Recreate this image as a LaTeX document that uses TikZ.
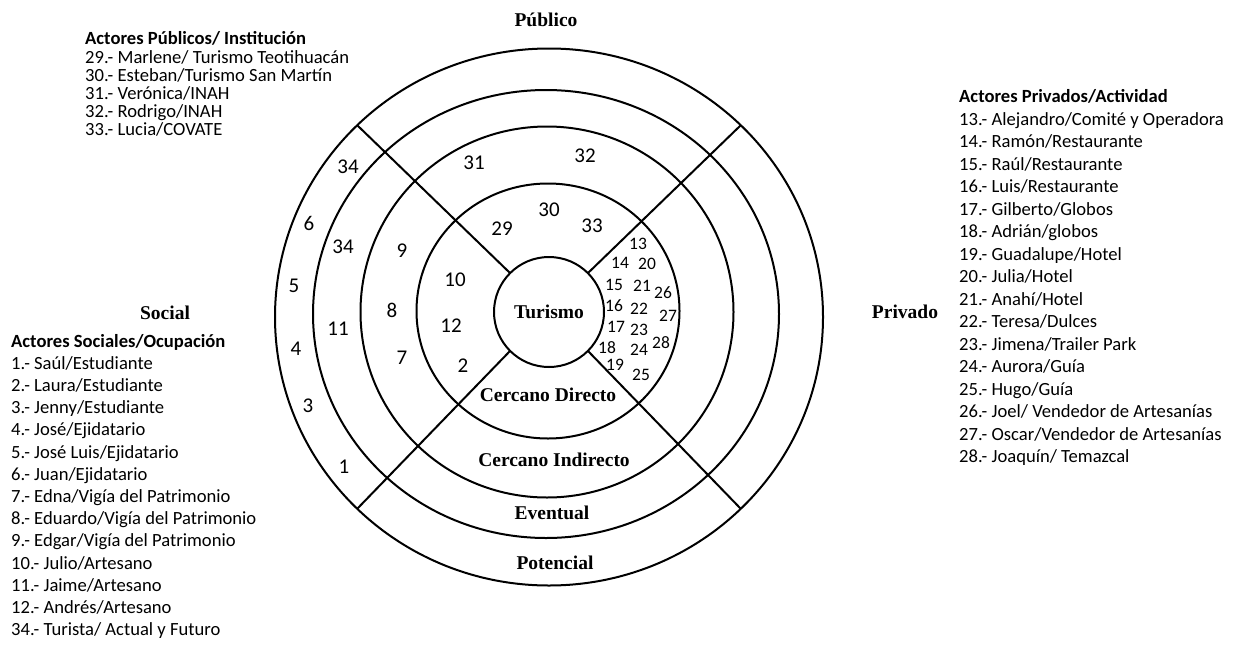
\documentclass[tikz,border=0pt]{standalone}
\usepackage{fontspec}
\setmainfont{Carlito}
\newfontfamily\rimfont{Liberation Serif}
\usetikzlibrary{shapes.geometric}

\begin{document}
\begin{tikzpicture}[x=1pt,y=-1pt,
  ring/.style={draw, ellipse, inner sep=0pt, outer sep=0pt, line width=2pt},
  zone/.style={inner sep=0pt, font=\fontsize{19.5}{20}\rimfont\bfseries},
  bignum/.style={inner sep=0pt, font=\fontsize{21}{22}\selectfont},
  smallnum/.style={inner sep=0pt, font=\fontsize{17.5}{18}\selectfont},
  listtxt/.style={anchor=base west, inner sep=0pt, font=\fontsize{18.6}{20}\selectfont},
  listhead/.style={anchor=base west, inner sep=0pt, font=\fontsize{18.6}{20}\selectfont\bfseries}]
\useasboundingbox (0,0) rectangle (1245,648);

% concentric rings, outermost first
\node[ring, minimum width=548pt, minimum height=537pt] (pot)  at (549,317) {};
\node[ring, minimum width=466pt, minimum height=448pt] (eve)  at (546,314) {};
\node[ring, minimum width=373pt, minimum height=371pt] (cind) at (547,312) {};
\node[ring, minimum width=263pt, minimum height=255pt] (cdir) at (548,311) {};
\node[ring, minimum width=110pt, minimum height=110pt,
      font=\fontsize{19.5}{20}\rimfont\bfseries] (tur) at (549,312) {Turismo};

% the four sector dividers
\foreach \a in {45,135,225,315}
  \draw[line width=2pt] (tur.\a) -- (pot.\a);

% ring names
\node[zone] (lcd) at (548,395) {Cercano Directo};
\node[zone] (lci) at (554,460) {Cercano Indirecto};
\node[zone] (lev) at (552,513) {Eventual};
\node[zone] (lpo) at (555,563) {Potencial};

% sector names
\node[zone] (spub) at (546,20)  {Público};
\node[zone] (ssoc) at (165,313) {Social};
\node[zone] (spri) at (905,312) {Privado};

% actors placed in the social and public sectors
\foreach \n/\px/\py [count=\k] in {
  34/348/167, 6/309/223, 34/343/247, 5/294/286, 11/338/329, 4/296/349,
  3/308/406, 1/344/467, 9/402/251, 8/392/310, 7/402/358,
  10/455/280, 12/451/326, 2/463/366,
  31/474/163, 32/585/156, 29/502/229, 30/549/210, 33/592/226}
  \node[bignum] (big\k) at (\px,\py) {\n};

% actors placed in the private sector
\foreach \n/\px/\py in {
  13/638/244, 14/620/263, 20/647/264, 15/614/285, 21/642/286, 26/663/293,
  16/614/306, 22/639/309, 27/668/316, 17/616/327, 23/639/330, 28/661/343,
  18/607/348, 24/639/350, 19/615/365, 25/641/375}
  \node[smallnum] (sm\n) at (\px,\py) {\n};

% public actors
\node[listhead] (hpub) at (85,44) {Actores Públicos/ Institución};
\foreach \t [count=\i] in {
  29.- Marlene/ Turismo Teotihuacán,
  30.- Esteban/Turismo San Martín,
  31.- Verónica/INAH,
  32.- Rodrigo/INAH,
  33.- Lucia/COVATE}
  \node[listtxt] (pub\i) at (85,{63+18*(\i-1)}) {\t};

% social actors
\node[listhead] (hsoc) at (11,347) {Actores Sociales/Ocupación};
\foreach \t [count=\i] in {
  1.- Saúl/Estudiante,
  2.- Laura/Estudiante,
  3.- Jenny/Estudiante,
  4.- José/Ejidatario,
  5.- José Luis/Ejidatario,
  6.- Juan/Ejidatario,
  7.- Edna/Vigía del Patrimonio,
  8.- Eduardo/Vigía del Patrimonio,
  9.- Edgar/Vigía del Patrimonio,
  10.- Julio/Artesano,
  11.- Jaime/Artesano,
  12.- Andrés/Artesano,
  34.- Turista/ Actual y Futuro}
  \node[listtxt] (soc\i) at (11,{347+22.2*\i}) {\t};

% private actors
\node[listhead] (hpri) at (959,102) {Actores Privados/Actividad};
\foreach \t [count=\i] in {
  13.- Alejandro/Comité y Operadora,
  14.- Ramón/Restaurante,
  15.- Raúl/Restaurante,
  16.- Luis/Restaurante,
  17.- Gilberto/Globos,
  18.- Adrián/globos,
  19.- Guadalupe/Hotel,
  20.- Julia/Hotel,
  21.- Anahí/Hotel,
  22.- Teresa/Dulces,
  23.- Jimena/Trailer Park,
  24.- Aurora/Guía,
  25.- Hugo/Guía,
  26.- Joel/ Vendedor de Artesanías,
  27.- Oscar/Vendedor de Artesanías,
  28.- Joaquín/ Temazcal}
  \node[listtxt] (pri\i) at (959,{125+22.5*(\i-1)}) {\t};
\end{tikzpicture}
\end{document}
